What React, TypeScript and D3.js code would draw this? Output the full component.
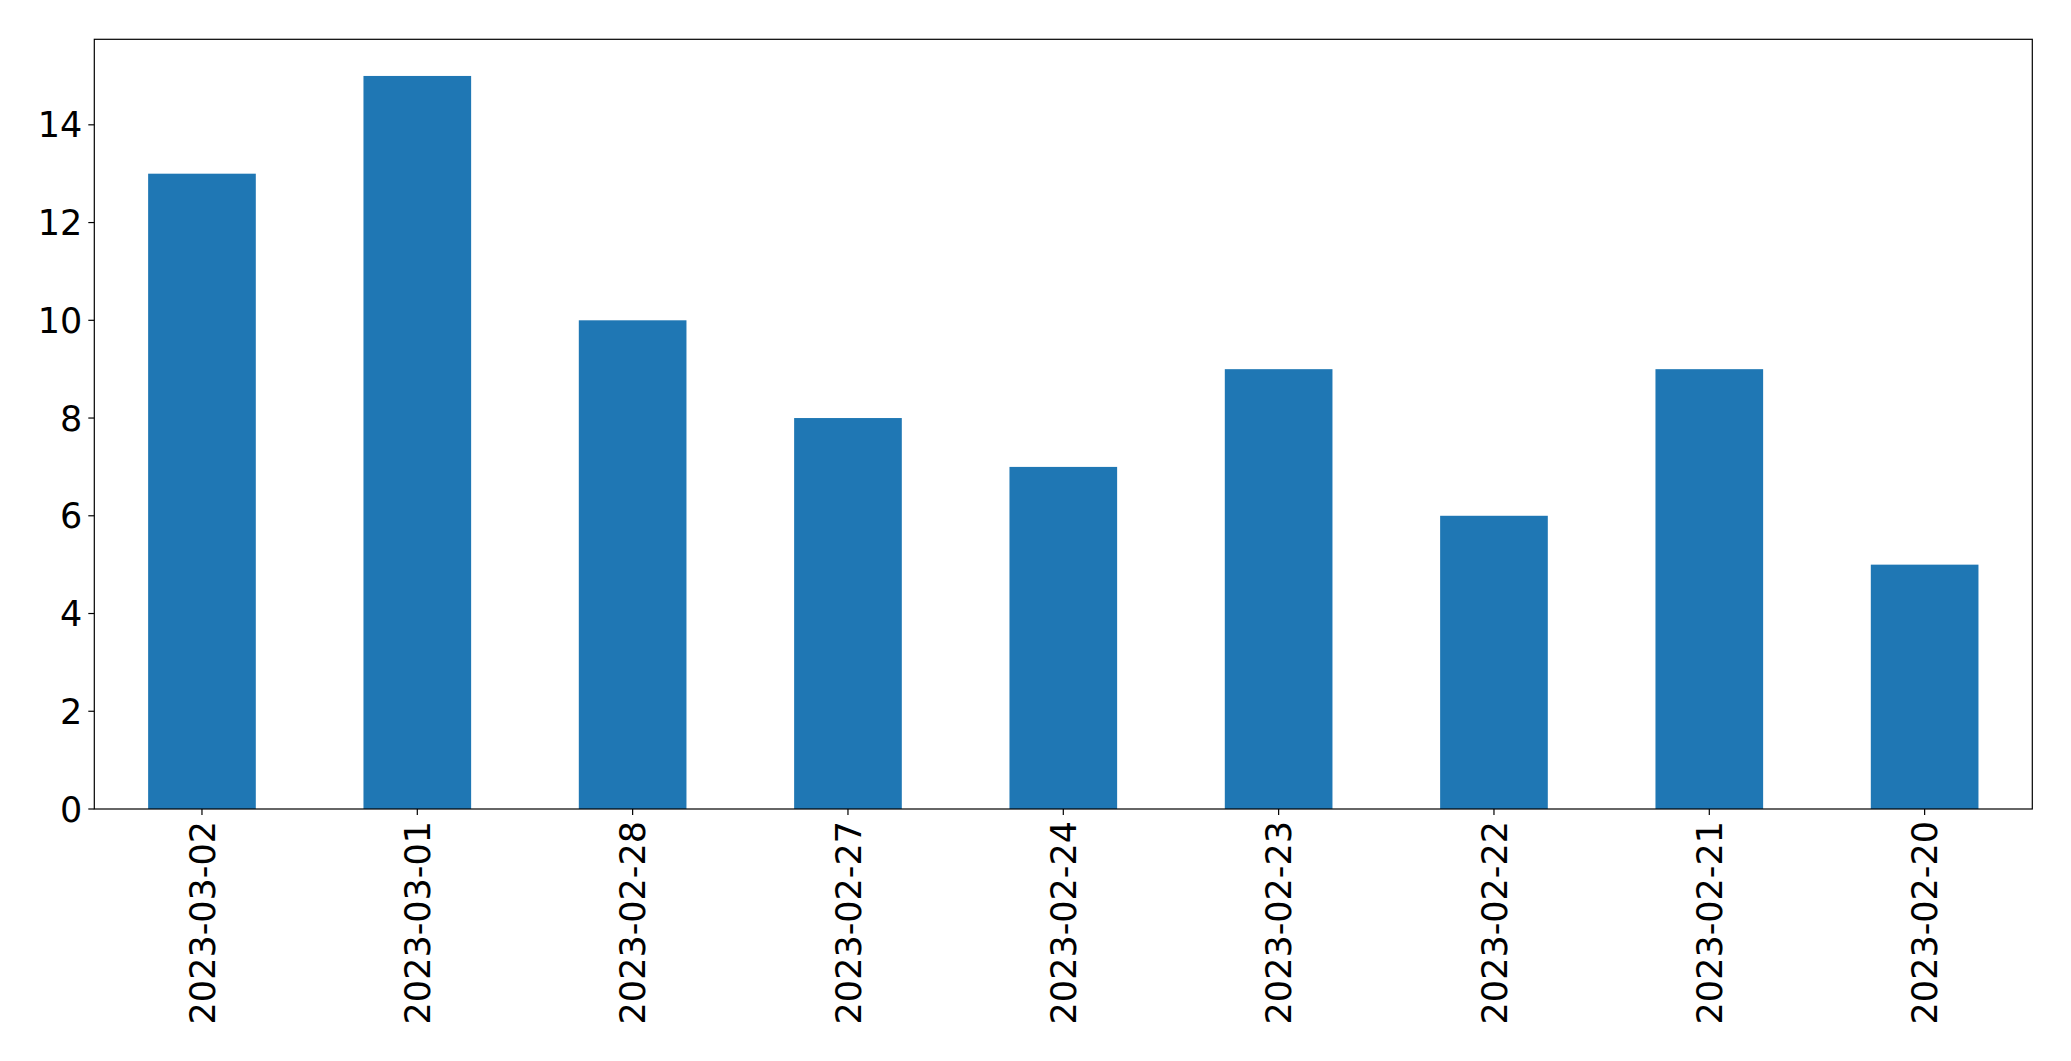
import React from "react";
import * as d3 from "d3";

const categories = ["2023-03-02", "2023-03-01", "2023-02-28", "2023-02-27", "2023-02-24", "2023-02-23", "2023-02-22", "2023-02-21", "2023-02-20"];
const values = [13, 15, 10, 8, 7, 9, 6, 9, 5];
const yTicks = [0, 2, 4, 6, 8, 10, 12, 14];

export default function App() {
  const W = 2071, H = 1061;
  const left = 94.3, right = 2032.3, top = 39.3, bottom = 809;
  const x = d3.scaleLinear().domain([-0.5, categories.length - 0.5]).range([left, right]);
  const y = d3.scaleLinear().domain([0, 15.75]).range([bottom, top]);
  const barW = x(0.5) - x(0);
  const fs = 35;
  return (
    <div style={{ position: "absolute", left: 0, top: 0 }}>
      <svg width={W} height={H} style={{ display: "block", background: "#fff" }} fontFamily="'DejaVu Sans', sans-serif">
        {values.map((v, i) => (
          <rect key={i} x={x(i) - barW / 2} y={y(v)} width={barW} height={y(0) - y(v)} fill="#1f77b4" />
        ))}
        <rect x={left} y={top} width={right - left} height={bottom - top} fill="none" stroke="#000" strokeWidth={1.2} />
        {yTicks.map((t) => (
          <g key={t}>
            <line x1={left - 6} x2={left} y1={y(t)} y2={y(t)} stroke="#000" strokeWidth={1.2} />
            <text x={left - 12} y={y(t)} dy="0.36em" textAnchor="end" fontSize={fs} fill="#000">{t}</text>
          </g>
        ))}
        {categories.map((c, i) => (
          <g key={c}>
            <line x1={x(i)} x2={x(i)} y1={bottom} y2={bottom + 6} stroke="#000" strokeWidth={1.2} />
            <text transform={`translate(${x(i)},${bottom + 12}) rotate(-90)`} dy="0.36em" textAnchor="end" fontSize={fs} fill="#000">{c}</text>
          </g>
        ))}
      </svg>
    </div>
  );
}
